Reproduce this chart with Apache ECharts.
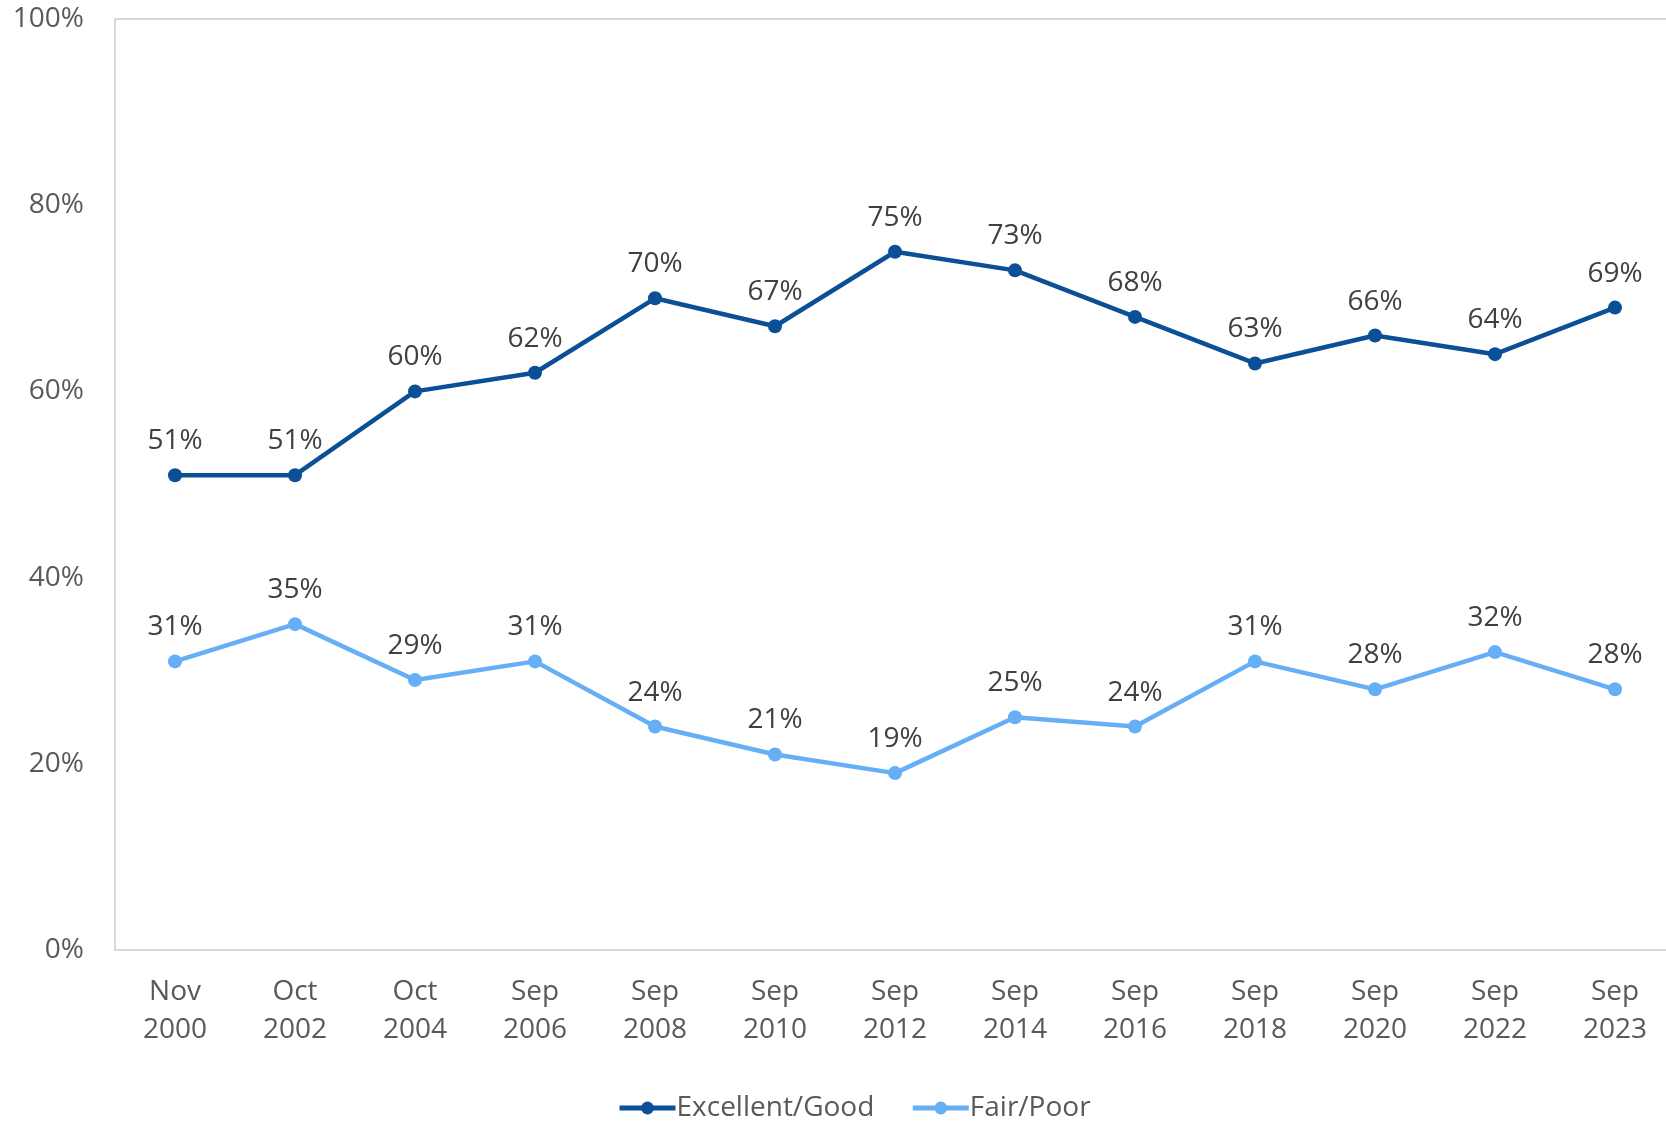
<!DOCTYPE html>
<html>
<head>
<meta charset="utf-8">
<script src="https://cdn.jsdelivr.net/npm/echarts@6/dist/echarts.min.js"></script>
<style>
html,body{margin:0;padding:0;background:#fff;overflow:hidden;}
#chart{width:1666px;height:1121px;}
</style>
</head>
<body>
<div id="chart"></div>
<script>
var categories = ['Nov\n2000','Oct\n2002','Oct\n2004','Sep\n2006','Sep\n2008','Sep\n2010','Sep\n2012','Sep\n2014','Sep\n2016','Sep\n2018','Sep\n2020','Sep\n2022','Sep\n2023'];
var excellentGood = [51,51,60,62,70,67,75,73,68,63,66,64,69];
var fairPoor = [31,35,29,31,24,21,19,25,24,31,28,32,28];
var seriesNames = ['Excellent/Good','Fair/Poor'];
var yTicks = [0,20,40,60,80,100];

var FONT = 'Open Sans';
var chart = echarts.init(document.getElementById('chart'));
function mkSeries(name, data, color){
  return {
    name: name, type: 'line', data: data,
    symbol: 'circle', symbolSize: 14,
    lineStyle: {width: 4.5, color: color},
    itemStyle: {color: color},
    label: {show: true, position: 'top', distance: 13, formatter: '{c}%',
      color: '#404040', fontFamily: FONT, fontSize: 28},
    emphasis: {disabled: true}
  };
}
chart.setOption({
  animation: false,
  backgroundColor: '#fff',
  grid: {left: 115, width: 1560, top: 19, height: 931, show: true,
    outerBoundsMode: 'none', containLabel: false,
    borderColor: '#d9d9d9', borderWidth: 2, backgroundColor: 'transparent'},
  legend: {
    left: 612, top: 1089,
    itemWidth: 56, itemHeight: 16, itemGap: 36,
    lineStyle: {width: 5},
    textStyle: {color: '#595959', fontFamily: FONT, fontSize: 28, padding: [0,0,0,-4]},
    data: seriesNames
  },
  xAxis: {
    type: 'category', data: categories, boundaryGap: true,
    axisLine: {show: false}, axisTick: {show: false},
    axisLabel: {color: '#595959', fontFamily: FONT, fontSize: 28, lineHeight: 38, margin: 23, interval: 0},
    splitLine: {show: false}
  },
  yAxis: {
    type: 'value', min: yTicks[0], max: yTicks[yTicks.length-1], interval: 20,
    axisLine: {show: false}, axisTick: {show: false}, splitLine: {show: false},
    axisLabel: {color: '#595959', fontFamily: FONT, fontSize: 28, margin: 31, formatter: '{value}%'}
  },
  series: [
    mkSeries(seriesNames[0], excellentGood, '#0B4F97'),
    mkSeries(seriesNames[1], fairPoor, '#66AEF5')
  ]
});
</script>
</body>
</html>
